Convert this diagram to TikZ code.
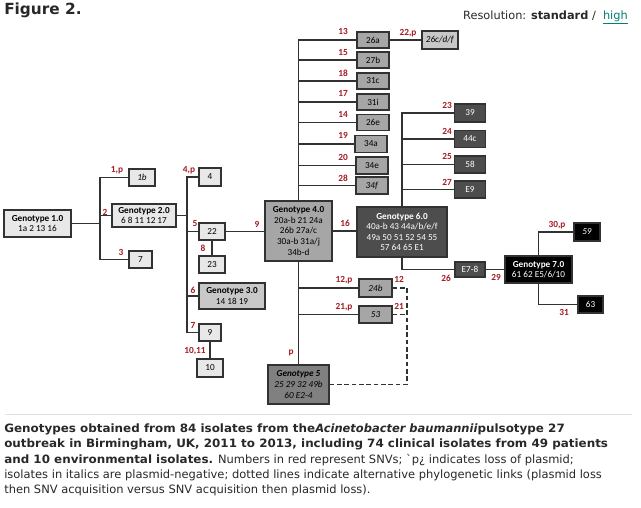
\documentclass[tikz,border=0pt]{standalone}
\usepackage{fontspec}
\usepackage{xcolor}
\newfontfamily\boxfont{Carlito}
\newfontfamily\headfont{DejaVu Sans}
\newfontfamily\webfont{DejaVu Sans}[BoldFeatures={FakeStretch=1.04}]
\definecolor{snvred}{RGB}{165,28,36}
\definecolor{linkteal}{RGB}{0,128,112}
\definecolor{gtlight}{RGB}{232,232,232}
\definecolor{gtthree}{RGB}{200,200,200}
\definecolor{gtfour}{RGB}{166,166,166}
\definecolor{gtfive}{RGB}{128,128,128}
\definecolor{gtsix}{RGB}{77,77,77}
\definecolor{edgegray}{RGB}{50,50,50}
\definecolor{webtext}{RGB}{40,40,40}
\definecolor{rulegray}{RGB}{225,225,225}

\begin{document}
\begin{tikzpicture}[x=0.75pt, y=-0.75pt,
	gbox/.style={shape=rectangle, draw=edgegray, line width=1.1pt, inner sep=0pt, align=center, font=\boxfont\fontsize{6.9}{7.9}\selectfont},
	sz/.style 2 args={minimum width={#1*0.75pt}, minimum height={#2*0.75pt}},
	lightbox/.style={gbox, fill=gtlight},
	threebox/.style={gbox, fill=gtthree},
	fourbox/.style={gbox, fill=gtfour},
	fivebox/.style={gbox, fill=gtfive},
	sixbox/.style={gbox, fill=gtsix, text=white},
	sevenbox/.style={gbox, fill=black, text=white},
	snv/.style={text=snvred, inner sep=0pt, font=\boxfont\bfseries\fontsize{7}{8}\selectfont},
	wire/.style={draw=edgegray, line width=1.2pt},
	altlink/.style={wire, dash pattern=on 3.5pt off 2pt}]
	\fill[white] (0,0) rectangle (641,507);
	\useasboundingbox (0,0) rectangle (641,507);
	% Header:
	\node[anchor=north west, inner sep=0pt, text=webtext, font=\headfont\bfseries\fontsize{11.5}{13}\selectfont] (fig) at (4,3) {Figure 2.};
	\node[anchor=base east, inner sep=0pt, text=webtext, font=\headfont\fontsize{8.5}{10}\selectfont] (res) at (628,19) {Resolution: \textbf{standard} /\ \ \textcolor{linkteal}{\underline{high}}};
	% Genotypes 1.0 to 3.0:
	\node[lightbox, sz={67}{27}] (g1) at (37.5,223.5) {\textbf{Genotype 1.0}\\1a 2 13 16};
	\node[lightbox, sz={64}{23}] (g2) at (144,215.5) {\textbf{Genotype 2.0}\\6 8 11 12 17};
	\node[lightbox, sz={26}{17}] (b1b) at (142,177.5) {\textit{1b}};
	\node[lightbox, sz={23}{17}] (b7) at (140.5,259.5) {7};
	\node[lightbox, sz={22}{18}] (b4) at (210,177) {4};
	\node[lightbox, sz={26}{17}] (b22) at (212,231.5) {22};
	\node[lightbox, sz={26}{17}] (b23) at (212,264.5) {23};
	\node[threebox, sz={66}{26}] (g3) at (232,296) {\textbf{Genotype 3.0}\\14 18 19};
	\node[lightbox, sz={22}{17}] (b9) at (210,332.5) {9};
	\node[lightbox, sz={26}{18}] (b10) at (210,368) {10};
	% Genotype 4.0 and its branches:
	\node[fourbox, sz={67}{60}] (g4) at (298.5,231) {\textbf{Genotype 4.0}\\20a-b 21 24a\\26b 27a/c\\30a-b 31a/j\\34b-d};
	\node[fourbox, sz={32}{16}] (b26a) at (373,40) {26a};
	\node[threebox, sz={36}{18}] (b26cdf) at (440,40) {\textit{26c/d/f}};
	\node[fourbox, sz={32}{16}] (b27b) at (373,60) {27b};
	\node[fourbox, sz={32}{16}] (b31c) at (373,81) {31c};
	\node[fourbox, sz={32}{16}] (b31i) at (373,102) {31i};
	\node[fourbox, sz={32}{16}] (b26e) at (373,122.5) {26e};
	\node[fourbox, sz={32}{17}] (b34a) at (371,144) {34a};
	\node[fourbox, sz={32}{17}] (b34e) at (372,165.5) {34e};
	\node[fourbox, sz={32}{17}] (b34f) at (372,185.5) {\textit{34f}};
	\node[fourbox, sz={33}{18}] (b24b) at (375.5,288) {\textit{24b}};
	\node[fourbox, sz={33}{17}] (b53) at (375.5,314.5) {\textit{53}};
	\node[fivebox, sz={61}{39}] (g5) at (298.5,384.5) {\textbf{\textit{Genotype 5}}\\\textit{25 29 32 49b}\\\textit{60 E2-4}};
	% Genotypes 6.0 and 7.0:
	\node[sixbox, sz={90}{50}] (g6) at (402,232) {\textbf{Genotype 6.0}\\40a-b 43 44a/b/e/f\\49a 50 51 52 54 55\\57 64 65 E1};
	\node[sixbox, sz={31}{18}] (b39) at (470,113) {39};
	\node[sixbox, sz={31}{17}] (b44c) at (470,139) {44c};
	\node[sixbox, sz={31}{17}] (b58) at (470,164.5) {58};
	\node[sixbox, sz={31}{17}] (bE9) at (470,189.5) {E9};
	\node[sixbox, sz={30}{15}] (bE78) at (470,269.5) {E7-8};
	\node[sevenbox, sz={67}{27}] (g7) at (538.5,269.5) {\textbf{Genotype 7.0}\\61 62 E5/6/10};
	\node[sevenbox, sz={26}{18}] (b59) at (587,232) {\textit{59}};
	\node[sevenbox, sz={25}{17}] (b63) at (590.5,304.5) {63};
	% Trunks and branches:
	\coordinate (t1) at (100,0);
	\coordinate (t2) at (187,0);
	\coordinate (dj) at (407,0);
	\draw[wire] (b1b.west) -| (t1 |- b7.west) -- (b7.west);
	\draw[wire] (g1.east) -- (g1.east -| t1);
	\draw[wire] (g2.west) -- (g2.west -| t1);
	\draw[wire] (b4.west) -| (t2 |- b9.west) -- (b9.west);
	\draw[wire] (g2.east) -- (g2.east -| t2);
	\draw[wire] (b22.west) -- (b22.west -| t2);
	\draw[wire] (g3.west) -- (g3.west -| t2);
	\draw[wire] (b22.south) -- (b23.north);
	\draw[wire] (b9.south) -- (b10.north);
	\draw[wire] (b22.east) -- (b22.east -| g4.west);
	\draw[wire] (g4.north) |- (b26a.west);
	\draw[wire] (b26a.east) -- (b26cdf.west);
	\draw[wire] (b27b.west) -- (b27b.west -| g4.north);
	\draw[wire] (b31c.west) -- (b31c.west -| g4.north);
	\draw[wire] (b31i.west) -- (b31i.west -| g4.north);
	\draw[wire] (b26e.west) -- (b26e.west -| g4.north);
	\draw[wire] (b34a.west) -- (b34a.west -| g4.north);
	\draw[wire] (b34e.west) -- (b34e.west -| g4.north);
	\draw[wire] (b34f.west) -- (b34f.west -| g4.north);
	\draw[wire] (g4.south) -- (g5.north);
	\draw[wire] (b24b.west -| g4.south) -- (b24b.west);
	\draw[wire] (b53.west -| g4.south) -- (b53.west);
	\draw[altlink] (b24b.east) -| (dj |- g5.east) -- (g5.east);
	\draw[altlink] (b53.east) -- (b53.east -| dj);
	\draw[wire] (g4.east) -- (g4.east -| g6.west);
	\draw[wire] (g6.north) |- (b39.west);
	\draw[wire] (b44c.west) -- (b44c.west -| g6.north);
	\draw[wire] (b58.west) -- (b58.west -| g6.north);
	\draw[wire] (bE9.west) -- (bE9.west -| g6.north);
	\draw[wire] (g6.south) |- (bE78.west);
	\draw[wire] (bE78.east) -- (bE78.east -| g7.west);
	\draw[wire] (g7.north) |- (b59.west);
	\draw[wire] (g7.south) |- (b63.west);
	% SNV labels:
	\node[snv] (s1p) at (117,170) {1,p};
	\node[snv] (s2) at (105,212) {2};
	\node[snv] (s3) at (121,252) {3};
	\node[snv] (s4p) at (189,170) {4,p};
	\node[snv] (s5) at (195,223) {5};
	\node[snv] (s8) at (203,248) {8};
	\node[snv] (s6) at (193,290) {6};
	\node[snv] (s7) at (193,325) {7};
	\node[snv] (s1011) at (195,351) {10,11};
	\node[snv] (s9) at (257,224) {9};
	\node[snv] (s13) at (343,31) {13};
	\node[snv] (s22p) at (408,33) {22,p};
	\node[snv] (s15) at (343,52) {15};
	\node[snv] (s18) at (343,73) {18};
	\node[snv] (s17) at (343,93) {17};
	\node[snv] (s14) at (343,114) {14};
	\node[snv] (s19) at (343,135) {19};
	\node[snv] (s20) at (343,157) {20};
	\node[snv] (s28) at (343,178) {28};
	\node[snv] (s16) at (345,223) {16};
	\node[snv] (s23) at (447,105) {23};
	\node[snv] (s24) at (447,131) {24};
	\node[snv] (s25) at (447,156) {25};
	\node[snv] (s27) at (447,182) {27};
	\node[snv] (s26) at (446,278) {26};
	\node[snv] (s29) at (496,277) {29};
	\node[snv] (s30p) at (557,225) {30,p};
	\node[snv] (s31) at (564,312) {31};
	\node[snv] (s12p) at (344,280) {12,p};
	\node[snv] (s21p) at (344,307) {21,p};
	\node[snv] (s12) at (399,279) {12};
	\node[snv] (s21) at (399,306) {21};
	\node[snv] (sp) at (291,353) {p};
	% Caption:
	\draw[rulegray, line width=0.75pt] (5,414) -- (632,414);
	\node[anchor=north west, inner sep=0pt, align=left, text=webtext, font=\webfont\fontsize{8.6}{11.5}\selectfont] (cap) at (4,423.5) {\textbf{Genotypes obtained from 84 isolates from the\textit{Acinetobacter baumannii}pulsotype 27}\\\textbf{outbreak in Birmingham, UK, 2011 to 2013, including 74 clinical isolates from 49 patients}\\\textbf{and 10 environmental isolates.} Numbers in red represent SNVs; \textasciigrave p¿ indicates loss of plasmid;\\isolates in italics are plasmid-negative; dotted lines indicate alternative phylogenetic links (plasmid loss\\then SNV acquisition versus SNV acquisition then plasmid loss).};
\end{tikzpicture}
\end{document}
